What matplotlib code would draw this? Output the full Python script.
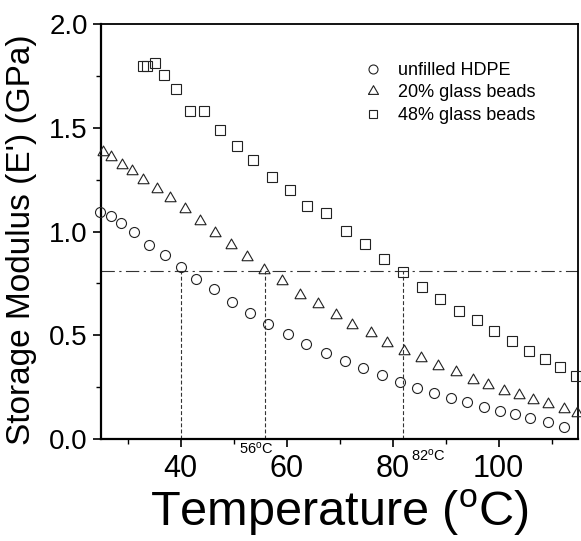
import matplotlib
matplotlib.use("Agg")
import matplotlib.pyplot as plt
import matplotlib.transforms as mtransforms
import numpy as np

plt.rcParams['font.family'] = ['Liberation Sans', 'DejaVu Sans']
plt.rcParams['mathtext.fontset'] = 'custom'
plt.rcParams['mathtext.rm'] = 'Liberation Sans'
plt.rcParams['mathtext.it'] = 'Liberation Sans:italic'
plt.rcParams['mathtext.bf'] = 'Liberation Sans:bold'

# ---- data ----
T_hdpe = [24.8, 26.8, 28.8, 31.3, 34.0, 37.0, 40.0, 43.0, 46.3, 49.8, 53.1, 56.6, 60.2, 63.7, 67.4,
          71.0, 74.5, 78.0, 81.4, 84.6, 87.9, 91.0, 94.1, 97.2, 100.3, 103.1, 106.0, 109.3, 112.3]
E_hdpe = [1.094, 1.077, 1.041, 0.999, 0.936, 0.885, 0.828, 0.771, 0.725, 0.660, 0.607, 0.553, 0.508, 0.460, 0.415,
          0.378, 0.342, 0.307, 0.277, 0.248, 0.221, 0.200, 0.178, 0.155, 0.136, 0.120, 0.100, 0.081, 0.060]

T_20 = [25.3, 26.9, 28.9, 30.8, 33.0, 35.5, 38.0, 40.8, 43.6, 46.5, 49.6, 52.6, 55.8, 59.2, 62.6, 66.0,
        69.4, 72.4, 75.9, 79.0, 82.1, 85.4, 88.5, 91.9, 95.1, 98.1, 101.0, 103.8, 106.6, 109.3, 112.3, 114.8]
E_20 = [1.383, 1.361, 1.319, 1.290, 1.249, 1.204, 1.161, 1.107, 1.052, 0.991, 0.933, 0.877, 0.814, 0.762, 0.696, 0.652,
        0.600, 0.551, 0.510, 0.462, 0.426, 0.389, 0.354, 0.321, 0.286, 0.260, 0.232, 0.212, 0.189, 0.168, 0.144, 0.127]

T_48 = [33.0, 33.7, 35.2, 36.9, 39.2, 41.8, 44.4, 47.5, 50.7, 53.7, 57.3, 60.6, 63.8, 67.4,
        71.2, 74.8, 78.4, 81.9, 85.5, 89.0, 92.6, 96.0, 99.1, 102.5, 105.8, 108.8, 111.6, 114.6]
E_48 = [1.800, 1.800, 1.813, 1.753, 1.685, 1.582, 1.582, 1.490, 1.413, 1.346, 1.265, 1.200, 1.122, 1.088,
        1.002, 0.939, 0.868, 0.807, 0.731, 0.677, 0.615, 0.573, 0.520, 0.470, 0.426, 0.384, 0.347, 0.302]

series_labels = ['unfilled HDPE', '20% glass beads', '48% glass beads']

ref_E = 0.81
ref_T = [40, 56, 82]
ann_T = [51.1, 83.5]
ann_labels = ['56$\\mathregular{^o}$C', '82$\\mathregular{^o}$C']

x_ticks = [40, 60, 80, 100]
y_ticks = [0.0, 0.5, 1.0, 1.5, 2.0]
y_ticklabels = ['0.0', '0.5', '1.0', '1.5', '2.0']

# ---- figure ----
W, H = 581, 541
fig = plt.figure(figsize=(W / 100, H / 100), dpi=100)
ax = fig.add_axes([101 / W, 1 - 439 / H, (578 - 101) / W, (439 - 24) / H])

tri = [(-1, -0.577), (1, -0.577), (0, 1.155), (-1, -0.577)]
ec = '#222222'
ax.plot(T_hdpe, E_hdpe, ls='none', marker='o', ms=7.2, mfc='none', mec=ec, mew=0.8,
        clip_on=False, label=series_labels[0], zorder=3)
ax.plot(T_20, E_20, ls='none', marker=tri, ms=9.3, mfc='none', mec=ec, mew=0.8,
        clip_on=False, label=series_labels[1], zorder=3)
ax.plot(T_48, E_48, ls='none', marker='s', ms=6.5, mfc='none', mec=ec, mew=0.8,
        clip_on=False, label=series_labels[2], zorder=3)

# reference lines
ax.axhline(ref_E, color='#333333', lw=0.8, dashes=(12, 4, 2, 4), zorder=2)
for t in ref_T:
    ax.plot([t, t], [0, ref_E], color='#333333', lw=0.8, dashes=(3.5, 2), zorder=2)

trans = mtransforms.blended_transform_factory(ax.transData, ax.transAxes)
ax.text(ann_T[0], -0.004, ann_labels[0], transform=trans, ha='left', va='top', fontsize=10.5)
ax.text(ann_T[1], -0.020, ann_labels[1], transform=trans, ha='left', va='top', fontsize=10.5)

ax.set_xlim(25, 115)
ax.set_ylim(0, 2.0)
ax.set_xticks(x_ticks)
ax.set_xticks([30, 50, 70, 90, 110], minor=True)
ax.set_yticks(y_ticks)
ax.set_yticklabels(y_ticklabels)
ax.set_yticks([0.25, 0.75, 1.25, 1.75], minor=True)

ax.tick_params(axis='both', which='major', direction='out', length=5.5, width=1.2, color='black')
ax.tick_params(axis='both', which='minor', direction='out', length=3.5, width=1.0, color='black')
ax.tick_params(axis='x', which='major', labelsize=22, pad=5)
ax.tick_params(axis='y', which='major', labelsize=20, pad=4)

for side in ['left', 'bottom']:
    ax.spines[side].set_linewidth(1.6)
for side in ['top', 'right']:
    ax.spines[side].set_linewidth(1.3)

ax.set_xlabel('Temperature ($\\mathregular{^o}$C)', fontsize=35, labelpad=3)
ax.set_ylabel("Storage Modulus (E') (GPa)", fontsize=24)
ax.yaxis.set_label_coords(-0.134, 0.48)

leg = ax.legend(loc='upper left', bbox_to_anchor=(364 / W, 1 - 62 / H), bbox_transform=fig.transFigure,
                frameon=False, fontsize=13, handlelength=1.0, handletextpad=0.9,
                labelspacing=0.3, borderpad=0, borderaxespad=0, markerscale=0.9)

fig.savefig('out.png', dpi=100)
